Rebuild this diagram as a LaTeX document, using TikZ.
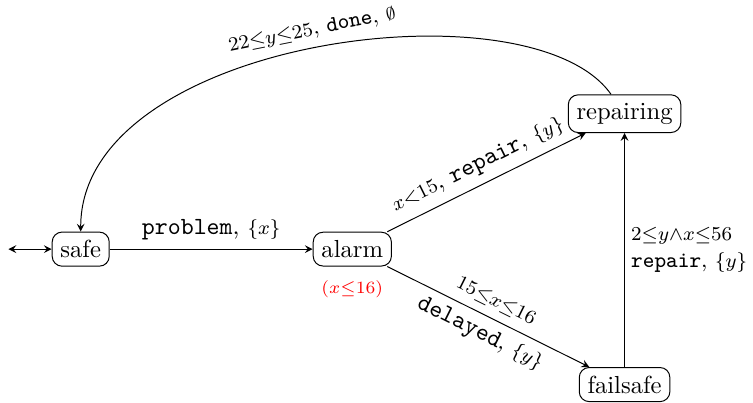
\documentclass[tikz,border=0pt]{standalone}
\usepackage{amssymb}
\tikzset{
  loc/.style={draw, rounded corners=4pt},
  inv/.style={text=red, font=\scriptsize},
}
\begin{document}
\begin{tikzpicture}[>=stealth]
\useasboundingbox (-1.15,-2.19) rectangle (9.58,3.55);
\node[loc] (safe) at (0,0) {safe};
\node[loc] (alarm) at (3.87,0) {alarm};
\node[loc] (repairing) at (7.75,1.93) {repairing};
\node[loc] (failsafe) at (7.75,-1.93) {failsafe};
\node[inv, below, yshift=-2pt] (alarminv) at (alarm.south) {$(x{\leq}16)$};
\coordinate (init) at (-1.03,0);
\draw[<->] (init) -- (safe);
\draw[->] (safe) -- node[above] {\texttt{problem}, {\footnotesize$\{x\}$}} (alarm);
\draw[->] (alarm) -- node[above, sloped] {{\footnotesize$x{<}15$}, \texttt{repair}, {\footnotesize$\{y\}$}} (repairing);
\draw[->] (alarm) -- node[above, sloped] {\footnotesize$15{\leq}x{\leq}16$} node[below, sloped] {\texttt{delayed}, {\footnotesize$\{y\}$}} (failsafe);
\draw[->] (failsafe) -- node[right, align=left, font=\small, inner xsep=2.5pt] {\footnotesize$2{\leq}y{\wedge}x{\leq}56$\\\texttt{repair}, {\footnotesize$\{y\}$}} (repairing);
\draw[->] (repairing) to[out=125, in=90, out looseness=0.65, in looseness=0.9] node[above, sloped, pos=0.5, font=\small] {{\footnotesize$22{\leq}y{\leq}25$}, \texttt{done}, {\scriptsize$\emptyset$}} (safe);
\end{tikzpicture}
\end{document}
